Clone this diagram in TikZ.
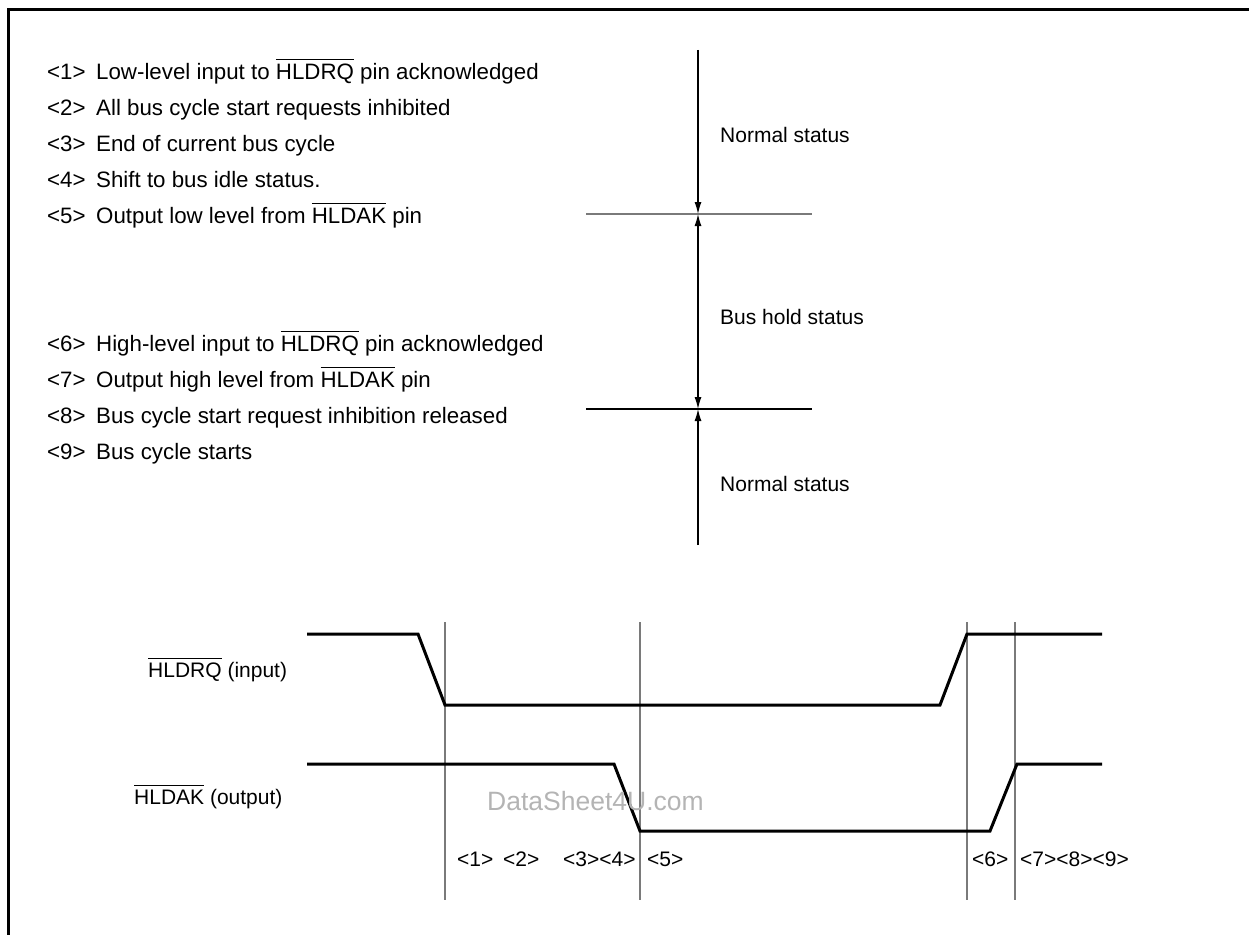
\documentclass[tikz,border=0pt]{standalone}
\usepackage{fontspec}
\setmainfont{Liberation Sans}
\usetikzlibrary{arrows.meta}
\newcommand\ovl[1]{\vbox{\hrule height 1.2pt\kern 3.5pt\hbox{#1}}}
\definecolor{thingray}{HTML}{7A7A7A}
\definecolor{wmgray}{HTML}{B4B4B4}
\begin{document}
\begin{tikzpicture}[x=1pt,y=-1pt,
  listtxt/.style={anchor=base west,inner sep=0pt,font=\fontsize{22.3}{26}\selectfont},
  smalltxt/.style={anchor=base west,inner sep=0pt,font=\fontsize{21}{25}\selectfont},
  wave/.style={line width=3pt,line join=miter},
  guide/.style={line width=1.3pt,thingray},
  dim/.style={line width=1.2pt,black},
  tip/.style={-{Latex[length=12pt,width=7pt]}},
  tips/.style={{Latex[length=12pt,width=7pt]}-{Latex[length=12pt,width=7pt]}}
]
\useasboundingbox (0,0) rectangle (1249,934);
% frame
\draw[line width=3pt] (8.7,940) -- (8.7,9.7) -- (1255,9.7);

% list
\node[listtxt] (l1) at (47,79) {\makebox[49pt][l]{<1>}Low-level input to \ovl{HLDRQ} pin acknowledged};
\node[listtxt] (l2) at (47,115) {\makebox[49pt][l]{<2>}All bus cycle start requests inhibited};
\node[listtxt] (l3) at (47,151) {\makebox[49pt][l]{<3>}End of current bus cycle};
\node[listtxt] (l4) at (47,187) {\makebox[49pt][l]{<4>}Shift to bus idle status.};
\node[listtxt] (l5) at (47,223) {\makebox[49pt][l]{<5>}Output low level from \ovl{HLDAK} pin};
\node[listtxt] (l6) at (47,351) {\makebox[49pt][l]{<6>}High-level input to \ovl{HLDRQ} pin acknowledged};
\node[listtxt] (l7) at (47,387) {\makebox[49pt][l]{<7>}Output high level from \ovl{HLDAK} pin};
\node[listtxt] (l8) at (47,423) {\makebox[49pt][l]{<8>}Bus cycle start request inhibition released};
\node[listtxt] (l9) at (47,459) {\makebox[49pt][l]{<9>}Bus cycle starts};

% status scale
\coordinate (vtop) at (698,50);
\coordinate (vA) at (698,214);
\coordinate (vB) at (698,409);
\coordinate (vbot) at (698,545);
\coordinate (hAl) at (586,214);
\coordinate (hAr) at (812,214);
\coordinate (hBl) at (586,409);
\coordinate (hBr) at (812,409);
\draw[line width=1.3pt,thingray] (hAl) -- (hAr);
\draw[line width=1.2pt] (hBl) -- (hBr);
\draw[dim,tip] (vtop) -- (vA);
\draw[dim,tips] (vA) -- (vB);
\draw[dim,tip] (vbot) -- (vB);
\node[smalltxt] (s1) at (720,142) {Normal status};
\node[smalltxt] (s2) at (720,324) {Bus hold status};
\node[smalltxt] (s3) at (720,491) {Normal status};

% timing guides
\foreach \x/\n in {445/g1,640/g2,967/g3,1015/g4}{
  \coordinate (\n t) at (\x,622);
  \coordinate (\n b) at (\x,900);
  \draw[guide] (\n t) -- (\n b);
}

% waveforms
\draw[wave] (307,634) -- (418,634) -- (445,705) -- (940,705) -- (967,634) -- (1102,634);
\draw[wave] (307,764) -- (614,764) -- (640,831) -- (990,831) -- (1017,764) -- (1102,764);

\node[smalltxt] (sigA) at (148,677) {\ovl{HLDRQ} (input)};
\node[smalltxt] (sigB) at (134,804) {\ovl{HLDAK} (output)};

% watermark
\node[anchor=base west,inner sep=0pt,text=wmgray,font=\fontsize{26.5}{30}\selectfont] (wm) at (487,810) {DataSheet4U.com};

% bottom labels
\node[smalltxt] (b1) at (457,866) {<1>};
\node[smalltxt] (b2) at (503,866) {<2>};
\node[smalltxt] (b34) at (563,866) {<3><4>};
\node[smalltxt] (b5) at (647,866) {<5>};
\node[smalltxt] (b6) at (972,866) {<6>};
\node[smalltxt] (b789) at (1020,866) {<7><8><9>};
\end{tikzpicture}
\end{document}
